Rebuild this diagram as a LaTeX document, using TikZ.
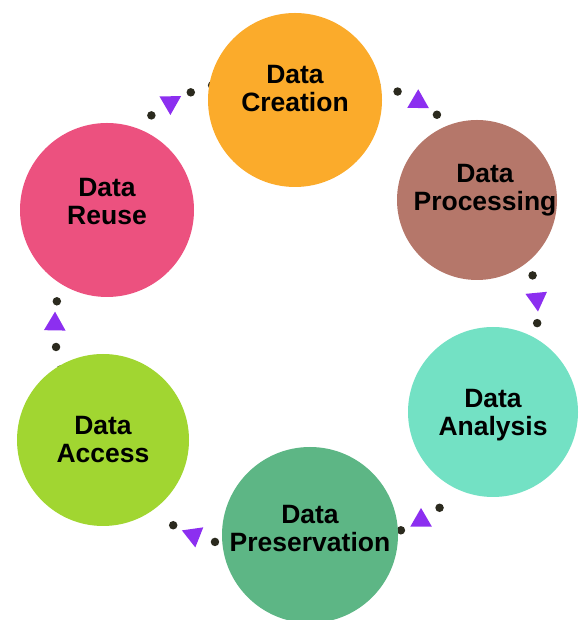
\documentclass[tikz,border=0pt]{standalone}
\usepackage{fontspec}
\setmainfont{Liberation Sans}
\usepackage{xcolor}
\usepackage{tikz}
\usetikzlibrary{shapes.geometric,backgrounds}
\definecolor{c_cre}{HTML}{FBAB2B}
\definecolor{c_pro}{HTML}{B5776A}
\definecolor{c_ana}{HTML}{73E1C4}
\definecolor{c_pre}{HTML}{5DB685}
\definecolor{c_acc}{HTML}{A1D631}
\definecolor{c_reu}{HTML}{EC517F}
\definecolor{c_dot}{HTML}{2B2A1E}
\definecolor{c_tip}{HTML}{8C2FF0}
\tikzset{
  cyc_n/.style = {circle, inner sep=0pt, draw=none},% cycle, disque
  cyc_t/.style = {align=center, inner sep=0pt, text=black,
    font=\bfseries\fontsize{26.5}{28}\selectfont},% cycle, texte
  cyc_d/.style = {circle, fill=c_dot, minimum size=8.5pt, inner sep=0pt},% cycle, point
  cyc_a/.style = {regular polygon, regular polygon sides=3, fill=c_tip,
    minimum size=25pt, inner sep=0pt, sloped, allow upside down,
    shape border rotate=-90}% cycle, fleche
}

\begin{document}
\begin{tikzpicture}[x=1pt,y=1pt]
\useasboundingbox (0,0) rectangle (579,620);
\clip (0,0) rectangle (579,620);
\node [cyc_n, fill=c_cre, minimum size=174pt] (cre) at (295,520) {};
\node [cyc_n, fill=c_pro, minimum size=160pt] (pro) at (477,420) {};
\node [cyc_n, fill=c_ana, minimum size=170pt] (ana) at (493,208) {};
\node [cyc_n, fill=c_pre, minimum size=176pt] (pre) at (310,85) {};
\node [cyc_n, fill=c_acc, minimum size=172pt] (acc) at (103,180) {};
\node [cyc_n, fill=c_reu, minimum size=174pt] (reu) at (107,410) {};
\node [cyc_t] (t_cre) at (295,531) {Data\\Creation};
\node [cyc_t] (t_pro) at (485,430) {Data\\Processing};
\node [cyc_t] (t_ana) at (493,205) {Data\\Analysis};
\node [cyc_t] (t_pre) at (310,91) {Data\\Preservation};
\node [cyc_t] (t_acc) at (103,180) {Data\\Access};
\node [cyc_t] (t_reu) at (107,418) {Data\\Reuse};
\begin{scope}[on background layer]
\path (reu.center) to[bend left=72] node[cyc_d,pos=.42]{}
  node[cyc_a,pos=.5]{} node[cyc_d,pos=.58]{} node[cyc_d,pos=.66]{} (cre.center);
\path (cre.center) to[bend left=72] node[cyc_d,pos=.35]{} node[cyc_d,pos=.434]{}
  node[cyc_a,pos=.518]{} node[cyc_d,pos=.602]{} (pro.center);
\path (pro.center) to[bend left=57] node[cyc_d,pos=.392]{}
  node[cyc_a,pos=.488]{} node[cyc_d,pos=.584]{} (ana.center);
\path (ana.center) to[bend left=51] node[cyc_d,pos=.45]{}
  node[cyc_a,pos=.54]{} node[cyc_d,pos=.63]{} (pre.center);
\path (pre.center) to[bend left=47] node[cyc_d,pos=.378]{}
  node[cyc_a,pos=.468]{} node[cyc_d,pos=.558]{} (acc.center);
\path (acc.center) to[bend left=48] node[cyc_d,pos=.32]{} node[cyc_d,pos=.41]{}
  node[cyc_a,pos=.5]{} node[cyc_d,pos=.59]{} (reu.center);
\end{scope}
\end{tikzpicture}
\end{document}
